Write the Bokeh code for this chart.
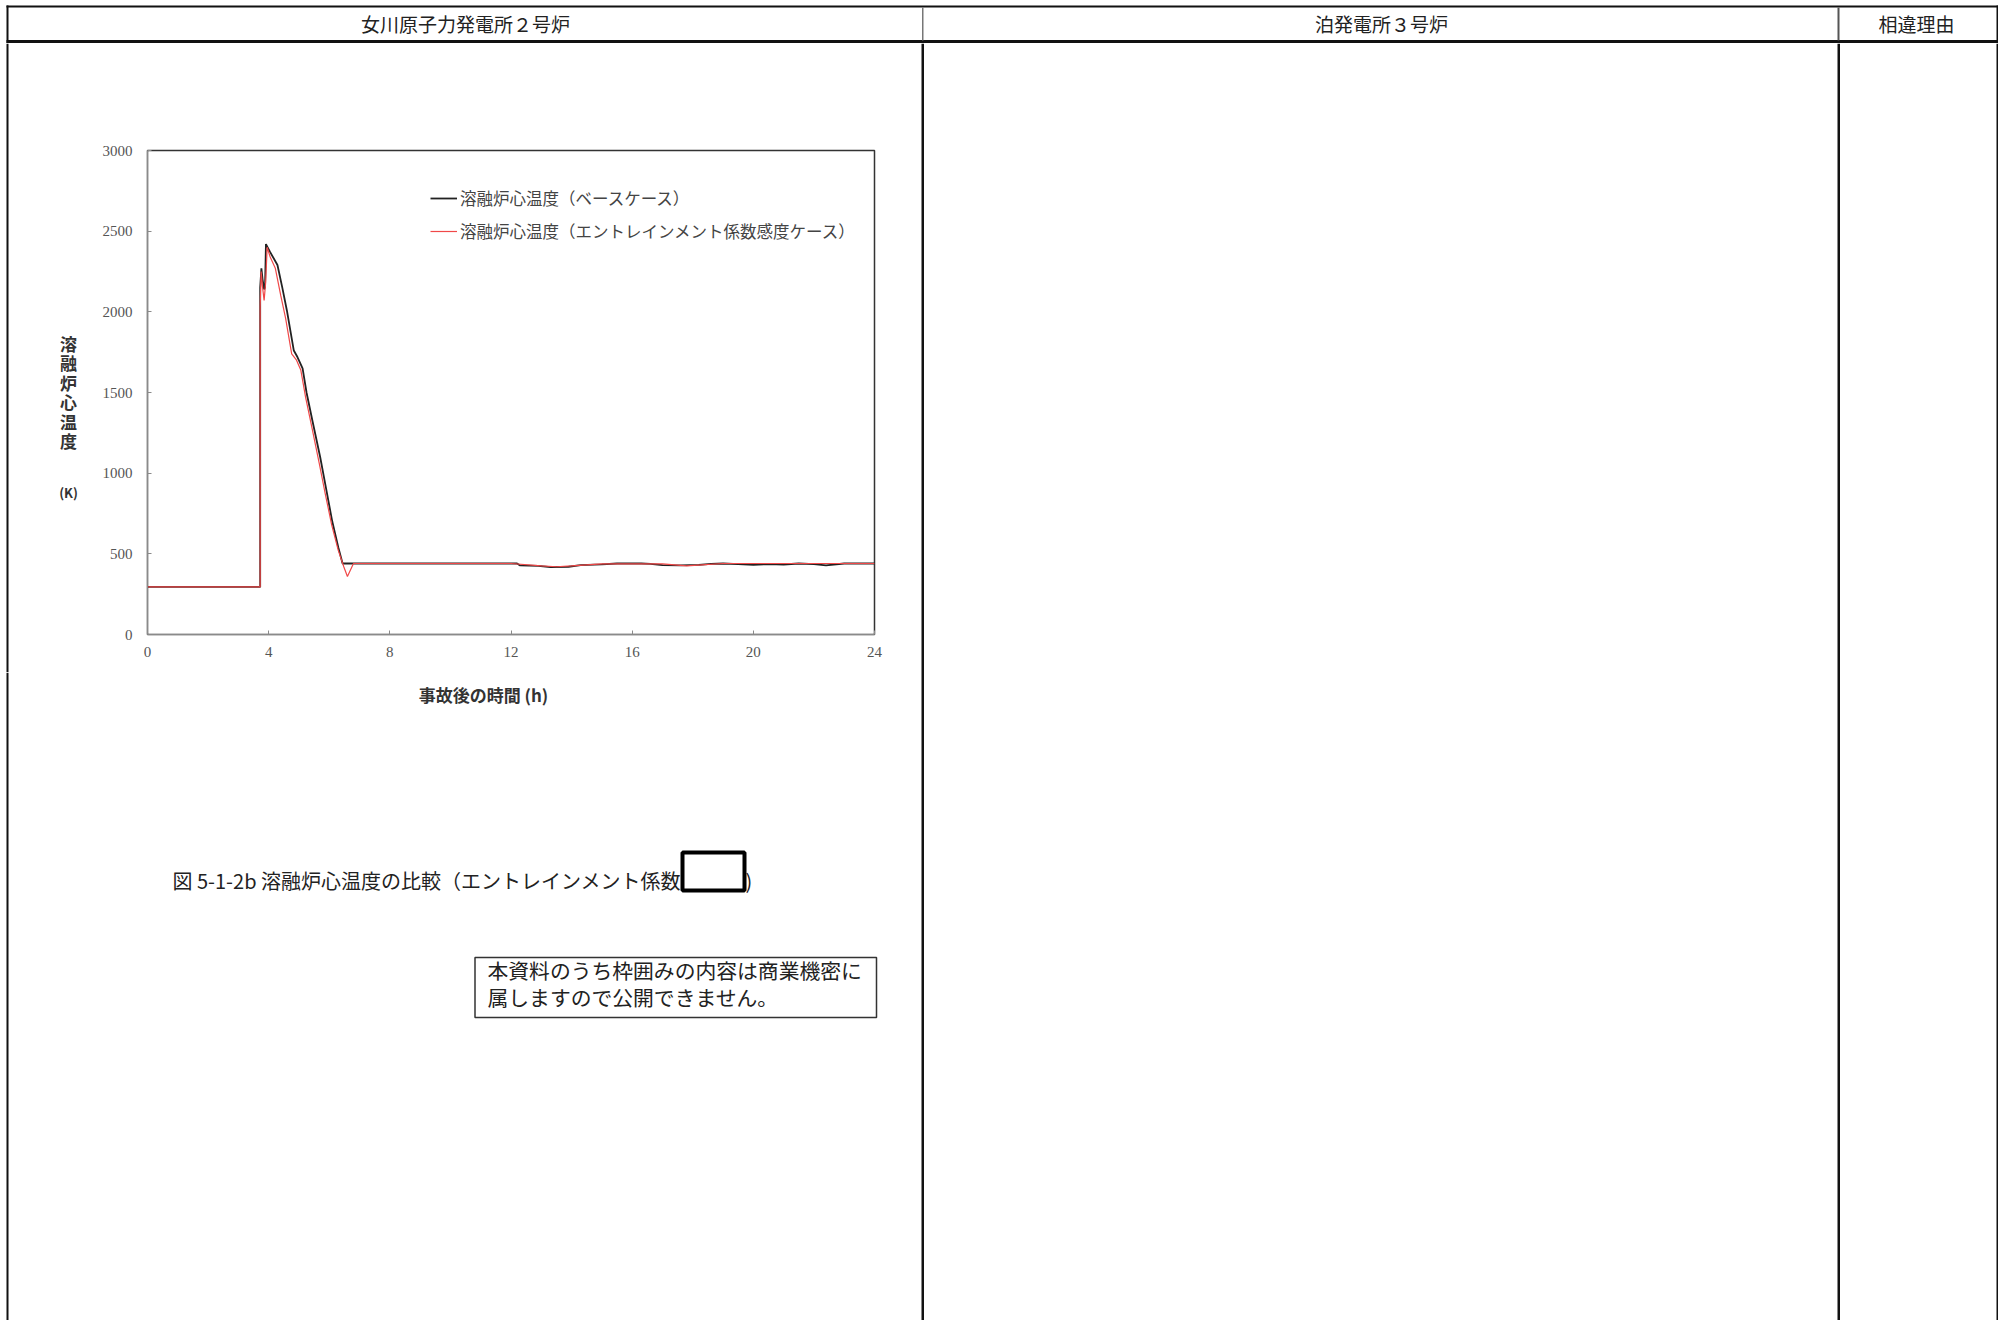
from bokeh.plotting import figure
from bokeh.layouts import row, column
from bokeh.models import Range1d, FixedTicker, Legend, LegendItem
from bokeh.core.properties import value
from bokeh.embed import file_html
from bokeh.resources import INLINE

# ---------------- data ----------------
time_base = [0, 3.72, 3.72, 3.76, 3.80, 3.85, 3.88, 3.91, 4.05, 4.29, 4.45, 4.60, 4.83, 4.95,
             5.12, 5.25, 5.45, 5.70, 5.89, 6.10, 6.30, 6.44, 7.0, 12.2, 12.3, 12.9, 13.3,
             13.9, 14.3, 15.0, 15.5, 16.3, 16.6, 17.0, 17.6, 18.2, 18.6, 19.0, 19.5, 20.0,
             20.5, 21.0, 21.5, 22.0, 22.4, 23.0, 24.0]
temp_base = [295, 295, 2150, 2270, 2200, 2140, 2150, 2420, 2370, 2290, 2150, 2010, 1760, 1720,
             1650, 1500, 1320, 1100, 910, 700, 540, 440, 440, 440, 428, 425, 418,
             420, 430, 435, 440, 440, 438, 430, 428, 432, 438, 440, 436, 432,
             436, 434, 440, 436, 428, 440, 440]

time_sens = [0, 3.72, 3.72, 3.75, 3.80, 3.85, 3.90, 3.95, 4.05, 4.22, 4.40, 4.56, 4.76, 4.92,
             5.06, 5.22, 5.42, 5.67, 5.87, 6.08, 6.30, 6.48, 6.60, 6.80, 12.0, 13.0, 13.5,
             14.0, 15.0, 17.0, 17.8, 18.3, 19.0, 24.0]
temp_sens = [295, 295, 2030, 2250, 2150, 2070, 2180, 2400, 2340, 2270, 2100, 1960, 1740, 1700,
             1640, 1470, 1290, 1060, 870, 680, 520, 420, 360, 440, 440, 425, 420,
             425, 438, 438, 425, 432, 440, 440]

x_ticks = [0, 4, 8, 12, 16, 20, 24]
y_ticks = [0, 500, 1000, 1500, 2000, 2500, 3000]
legend_labels = ["溶融炉心温度（ベースケース）", "溶融炉心温度（エントレインメント係数感度ケース）"]
header_labels = ["女川原子力発電所２号炉", "泊発電所３号炉", "相違理由"]
x_label = "事故後の時間 (h)"
y_label_chars = ["溶", "融", "炉", "心", "温", "度"]
y_unit = "(K)"
caption = "図 5-1-2b 溶融炉心温度の比較（エントレインメント係数"
notice_lines = ["本資料のうち枠囲みの内容は商業機密に", "属しますので公開できません。"]

JP = "Noto Sans CJK JP"
INK = "#111111"

# page geometry (page pixel coordinates)
W_TOT, H_TOT = 1998, 1320
HEAD_H = 43
COL1_W = 920
YLAB_W = 95
CHART_BOTTOM = 672          # page y where the chart figure ends
FRAME_L, FRAME_R, FRAME_T, FRAME_B = 147, 874, 150, 634


def canvas(x0, y0, w, h):
    """A plain drawing surface whose data units are page pixels."""
    c = figure(width=w, height=h, x_range=Range1d(x0, x0 + w), y_range=Range1d(y0 + h, y0),
               x_axis_location=None, y_axis_location=None, output_backend="svg",
               toolbar_location=None, min_border=0, frame_align=False)
    c.grid.visible = False
    c.outline_line_color = None
    c.background_fill_color = "white"
    c.border_fill_color = "white"
    return c


def bar(c, x0, x1, y0, y1, color=INK):
    c.quad(left=[x0], right=[x1], top=[y0], bottom=[y1], fill_color=color, line_color=None)


def txt(c, x, y, s, size, align="center", style="normal", color="#222222"):
    c.text(x=[x], y=[y], text=[s], text_font=value(JP), text_font_size=size,
           text_font_style=style, text_align=align, text_baseline="middle", text_color=color)


# ---------------- header ----------------
head = canvas(0, 0, W_TOT, HEAD_H)
bar(head, 6, 1998, 5, 7)                 # top border
bar(head, 6, 1998, 39.5, 42.5)           # header bottom rule
bar(head, 6, 8, 5, 43)                   # left border
bar(head, 921.5, 923, 7, 40, "#777777")  # divider 1
bar(head, 1837, 1839, 7, 40, "#555555")  # divider 2
bar(head, 1996, 1998, 5, 43)             # right border
txt(head, 465, 23, header_labels[0], "19px")
txt(head, 1381, 23, header_labels[1], "19px")
txt(head, 1916, 23, header_labels[2], "19px")

# ---------------- y label strip ----------------
ylab = canvas(0, HEAD_H, YLAB_W, CHART_BOTTOM - HEAD_H)
bar(ylab, 6, 8, HEAD_H, CHART_BOTTOM)
for i, ch in enumerate(y_label_chars):
    txt(ylab, 68, 343 + i * 19.4, ch, "17px", style="bold", color="#333333")
txt(ylab, 68, 492, y_unit, "13px", style="bold", color="#333333")

# ---------------- chart ----------------
cw = COL1_W - YLAB_W
ch_h = CHART_BOTTOM - HEAD_H
p = figure(width=cw, height=ch_h, x_range=Range1d(0, 24), y_range=Range1d(0, 3000),
           output_backend="svg", toolbar_location=None, frame_align=False,
           min_border_left=FRAME_L - YLAB_W, min_border_right=COL1_W - FRAME_R,
           min_border_top=FRAME_T - HEAD_H, min_border_bottom=CHART_BOTTOM - FRAME_B)
p.background_fill_color = "white"
p.border_fill_color = "white"
p.outline_line_color = "#333333"
p.outline_line_width = 1.5
p.xgrid.visible = False
p.ygrid.visible = False
for ax in (p.xaxis, p.yaxis):
    ax.axis_line_color = "#8a8a8a"
    ax.major_tick_line_color = "#8a8a8a"
    ax.major_tick_in = 4
    ax.major_tick_out = 0
    ax.minor_tick_line_color = None
    ax.major_label_text_font = "Liberation Serif"
    ax.major_label_text_font_size = "15px"
    ax.major_label_text_color = "#555555"
p.xaxis.ticker = FixedTicker(ticks=x_ticks)
p.yaxis.ticker = FixedTicker(ticks=y_ticks)
p.xaxis.major_label_standoff = 12
p.yaxis.major_label_standoff = 15

r_base = p.line(time_base, temp_base, line_color="#222222", line_width=1.8)
r_sens = p.line(time_sens, temp_sens, line_color="#f04848", line_width=1.2)

legend = Legend(items=[LegendItem(label=legend_labels[0], renderers=[r_base]),
                       LegendItem(label=legend_labels[1], renderers=[r_sens])],
                location=(283, 391))
legend.border_line_color = None
legend.background_fill_alpha = 0
legend.label_text_font = JP
legend.label_text_font_size = "16.5px"
legend.label_text_color = "#444444"
legend.glyph_width = 27
legend.glyph_height = 20
legend.label_height = 20
legend.spacing = 9
legend.padding = 0
legend.margin = 0
legend.label_standoff = 3
p.add_layout(legend)

# ---------------- below the chart ----------------
below = canvas(0, CHART_BOTTOM, COL1_W, H_TOT - CHART_BOTTOM)
bar(below, 6, 8, CHART_BOTTOM, H_TOT)
txt(below, 483, 694, x_label, "17px", style="bold", color="#333333")
txt(below, 172, 880, caption, "20px", align="left")
txt(below, 745, 880, ")", "20px", align="left")
below.quad(left=[682], right=[744], top=[852], bottom=[890],
           fill_color="white", line_color="black", line_width=4)
below.quad(left=[474.5], right=[876], top=[957], bottom=[1017],
           fill_color=None, line_color="#333333", line_width=1.5)
txt(below, 487, 969, notice_lines[0], "20.8px", align="left")
txt(below, 487, 996, notice_lines[1], "20.8px", align="left")

# ---------------- right columns ----------------
right = canvas(COL1_W, HEAD_H, W_TOT - COL1_W, H_TOT - HEAD_H)
bar(right, 921, 923.5, HEAD_H, H_TOT)
bar(right, 1837, 1839.5, HEAD_H, H_TOT)
bar(right, 1996, 1998, HEAD_H, H_TOT)

page = column(head, row(column(row(ylab, p), below), right))

open("out.html", "w").write(file_html(page, INLINE))
